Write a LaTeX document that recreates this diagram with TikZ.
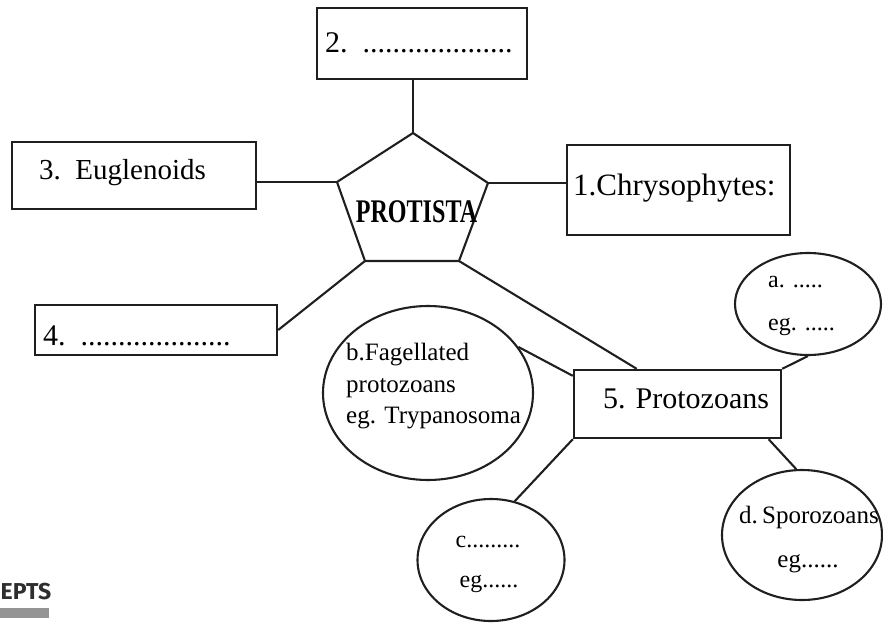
\documentclass[tikz,border=0pt]{standalone}
\usepackage{fontspec}
\setmainfont{Liberation Serif}
\newfontfamily\barfont{Fira Sans}
\usetikzlibrary{shapes.geometric,calc}
\begin{document}
\begin{tikzpicture}[x=1pt,y=-1pt,
  boxshape/.style={draw=black!88,line width=2.4pt,rectangle,inner sep=0pt},
  oval/.style={draw=black!88,line width=2.1pt,ellipse,inner sep=0pt},
  link/.style={draw=black!88,line width=2.1pt},
  txt/.style={inner sep=0pt,anchor=base west,text=black},
  ctxt/.style={inner sep=0pt,anchor=base,text=black},
  big/.style={font=\fontsize{30}{36}\selectfont},
  mid/.style={font=\fontsize{29}{35}\selectfont},
  small/.style={font=\fontsize{24}{30}\selectfont},
  smallb/.style={font=\fontsize{25}{30}\selectfont}]
\useasboundingbox (0,0) rectangle (883,623);

% boxes
\node[boxshape,minimum width=210pt,minimum height=71pt] (b2) at (422,43.5) {};
\node[boxshape,minimum width=244pt,minimum height=67pt] (b3) at (134,175.5) {};
\node[boxshape,minimum width=242pt,minimum height=50pt] (b4) at (156,330) {};
\node[boxshape,minimum width=223pt,minimum height=90pt] (b1) at (678.5,190) {};
\node[boxshape,minimum width=207pt,minimum height=68pt] (b5) at (677.5,404) {};

% box texts
\node[txt,big] (t2) at (325,53) {2.\ \ ....................};
\node[txt,mid] (t3) at (39,179) {3.\ \ Euglenoids};
\node[txt,big] (t4) at (43,345) {4.\ \ ....................};
\node[txt,font=\fontsize{31}{36}\selectfont] (t1) at (573,195) {1.Chrysophytes:};
\node[txt,big] (t5) at (603,408) {5. Protozoans};

% pentagon
\coordinate (pT) at (413,133);
\coordinate (pUL) at (337,182);
\coordinate (pUR) at (488,183);
\coordinate (pLL) at (365,261);
\coordinate (pLR) at (459,261);
\draw[link,line join=miter] (pT) -- (pUR) -- (pLR) -- (pLL) -- (pUL) -- cycle;
\node[ctxt,font=\bfseries\fontsize{33}{38}\selectfont] (ptxt) at (416.5,222) {\scalebox{0.73}[1]{PROTISTA}};

% ellipses
\node[oval,minimum width=146pt,minimum height=102pt] (ea) at (808,304) {};
\node[oval,minimum width=210pt,minimum height=174pt] (eb) at (428,393) {};
\node[oval,minimum width=147pt,minimum height=122pt] (ec) at (491,560) {};
\node[oval,minimum width=160pt,minimum height=130pt] (ed) at (802,535) {};

% ellipse texts
\node[txt,small] (ta1) at (768,287) {a. .....};
\node[txt,small] (ta2) at (768,330) {eg. .....};
\node[txt,smallb] (tb1) at (346,360) {b.Fagellated};
\node[txt,smallb] (tb2) at (346,392) {protozoans};
\node[txt,smallb] (tb3) at (346,423) {eg. Trypanosoma};
\node[ctxt,small] (tc1) at (488,547) {c.........};
\node[ctxt,small] (tc2) at (489,587) {eg......};
\node[ctxt,smallb] (td1) at (809,523) {d.\,Sporozoans};
\node[ctxt,smallb] (td2) at (808,567) {eg......};

% connectors
\draw[link] (pT |- b2.south) -- (pT);
\draw[link] (b3.east |- pUL) -- (pUL);
\draw[link] (pUR) -- (b1.west |- pUR);
\draw[link] (pLL) -- (b4.east);
\draw[link] (pLR) -- ($(b5.north west)!0.305!(b5.north east)$);
\draw[link] (ea.south) -- (b5.north east);
\draw[link] (eb.27) -- ($(b5.north west)!0.1!(b5.south west)$);
\draw[link] (b5.south west) -- (ec.68);
\draw[link] ($(b5.south west)!0.935!(b5.south east)$) -- (ed.95);

% corner fragment
\node[txt,font=\barfont\bfseries\fontsize{23}{28}\selectfont,text=black!82] (epts) at (0.5,599) {EPTS};
\fill[black!42] (0,608) rectangle (49,618);
\end{tikzpicture}
\end{document}
